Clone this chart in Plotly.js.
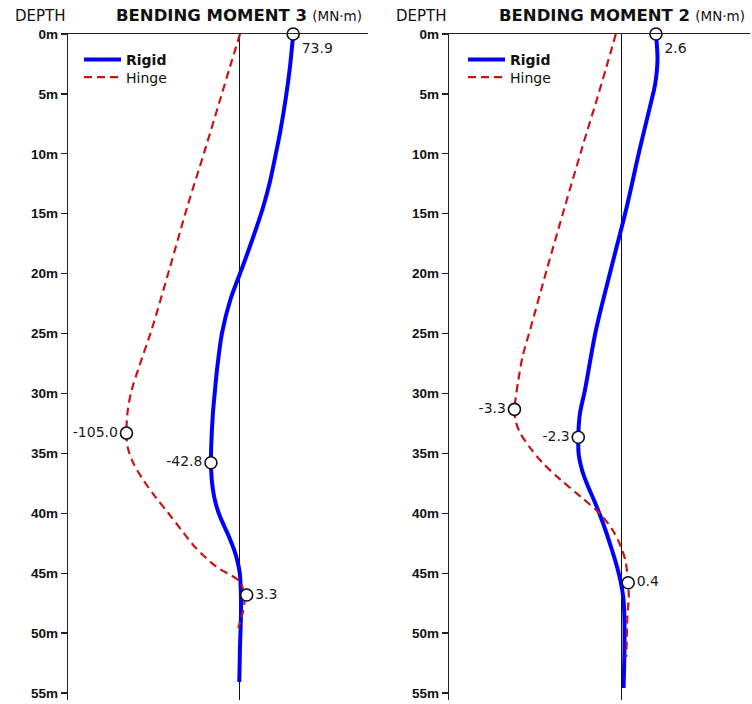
<!DOCTYPE html>
<html>
<head>
<meta charset="utf-8">
<script src="https://cdn.plot.ly/plotly-3.0.1.min.js"></script>
<style>html,body{margin:0;padding:0;background:#fff;}#chart{width:752px;height:704px;}</style>
</head>
<body>
<div id="chart"></div>
<script>
// ---------- DATA ----------
// Depth ticks
const depthTicks = [0, 5, 10, 15, 20, 25, 30, 35, 40, 45, 50, 55];
const depthTickText = ['0m', '5m', '10m', '15m', '20m', '25m', '30m', '35m', '40m', '45m', '50m', '55m'];

// Bending moment 3 (MN·m) - Rigid
const bm3RigidDepth = [0, 2.75, 5.51, 8.26, 9.52, 12.44, 14.52, 16.61, 18.03, 19.62, 22.2, 24.96, 27.8, 29.72, 31.64, 34.47, 35.79, 36.98, 38.06, 39.0, 40.0, 41.0, 42.0, 43.0, 44.0, 45.0, 46.5, 48.33, 51.17, 54.09];
const bm3RigidValue = [73.9, 69.4, 63.2, 55.6, 51.4, 41.2, 31.8, 20.3, 12.0, 2.4, -13.5, -25.0, -31.5, -34.7, -37.6, -40.0, -40.3, -39.5, -37.5, -34.5, -29.5, -22.5, -15.0, -8.5, -3.5, -0.3, 1.2, 1.4, 0.0, -1.0];
// Bending moment 3 (MN·m) - Hinge
const bm3HingeDepth = [0, 2.75, 5.51, 9.52, 14.52, 19.62, 24.71, 27.8, 29.8, 31.64, 33.31, 34.47, 35.81, 37.23, 38.65, 39.98, 41.4, 42.82, 44.49, 45.74, 47.08, 48.33, 49.58];
const bm3HingeValue = [0, -9.3, -18.5, -31.9, -49.1, -65.3, -81.9, -93.5, -100.5, -104.2, -105.1, -104.0, -98.8, -89.5, -78.2, -66.4, -54.2, -41.7, -21.6, 0.0, 4.2, 2.5, -1.6];

// Bending moment 2 (MN·m) - Rigid
const bm2RigidDepth = [0, 2.17, 4.26, 5.51, 9.52, 14.52, 19.62, 24.71, 29.72, 31.64, 33.64, 35.14, 36.39, 37.65, 38.9, 40.15, 41.4, 42.82, 44.16, 45.58, 47.0, 48.5, 51.17, 54.59];
const bm2RigidValue = [2.21, 2.31, 2.15, 1.93, 1.18, 0.31, -0.69, -1.66, -2.37, -2.69, -2.80, -2.77, -2.56, -2.21, -1.79, -1.40, -1.05, -0.69, -0.37, -0.09, 0.10, 0.17, 0.18, 0.12];
// Bending moment 2 (MN·m) - Hinge
const bm2HingeDepth = [0, 2.75, 5.51, 9.52, 14.52, 19.62, 24.71, 26.8, 28.88, 30.55, 31.33, 32.22, 33.22, 34.47, 35.81, 37.23, 38.65, 39.98, 41.4, 42.82, 44.16, 45.83, 47.0, 48.33, 51.17, 52.0];
const bm2HingeValue = [-0.18, -0.47, -0.77, -1.22, -1.76, -2.30, -2.82, -3.04, -3.18, -3.27, -3.30, -3.27, -3.14, -2.84, -2.43, -1.87, -1.25, -0.69, -0.28, -0.02, 0.13, 0.19, 0.22, 0.18, 0.15, 0.14];

// Highlighted points (depth, plotted position, printed label)
const bm3RigidMarkDepth = [0, 35.79];
const bm3RigidMarkValue = [73.9, -40.3];
const bm3RigidMarkLabel = ['73.9', '-42.8'];
const bm3HingeMarkDepth = [33.31, 46.83];
const bm3HingeMarkValue = [-105.1, 6.2];
const bm3HingeMarkLabel = ['-105.0', '3.3'];
const bm2RigidMarkDepth = [0, 33.66];
const bm2RigidMarkValue = [2.21, -2.80];
const bm2RigidMarkLabel = ['2.6', '-2.3'];
const bm2HingeMarkDepth = [31.33, 45.8];
const bm2HingeMarkValue = [-3.30, 0.20];
const bm2HingeMarkLabel = ['-3.3', '0.4'];

// ---------- STYLE ----------
const W = 752, H = 704;
const FONT = 'DejaVu Sans, Verdana, sans-serif';
const TICKFONT = 'Liberation Sans, Arial, sans-serif';
const BLUE = '#0000ff';
const RED = '#c81414';
const px = v => v / W;
const py = v => 1 - v / H;

const rigidLine = {color: BLUE, width: 4, shape: 'spline', smoothing: 0.9};
const hingeLine = {color: RED, width: 2.2, dash: '8px,5px', shape: 'spline', smoothing: 0.9};
const markStyle = {size: 12, color: '#ffffff', line: {color: '#111', width: 1.6}};
const markFont = {family: FONT, size: 14, color: '#1a1a1a'};

const traces = [
  {x: bm3RigidValue, y: bm3RigidDepth, xaxis: 'x', yaxis: 'y', mode: 'lines', name: '<b>Rigid</b>', line: rigidLine, legend: 'legend'},
  {x: bm3HingeValue, y: bm3HingeDepth, xaxis: 'x2', yaxis: 'y', mode: 'lines', name: 'Hinge', line: hingeLine, legend: 'legend2'},
  {x: bm2RigidValue, y: bm2RigidDepth, xaxis: 'x3', yaxis: 'y2', mode: 'lines', name: '<b>Rigid</b>', line: rigidLine, legend: 'legend3'},
  {x: bm2HingeValue, y: bm2HingeDepth, xaxis: 'x4', yaxis: 'y2', mode: 'lines', name: 'Hinge', line: hingeLine, legend: 'legend4'},
  {x: bm3RigidMarkValue, y: bm3RigidMarkDepth, xaxis: 'x', yaxis: 'y', mode: 'markers+text', text: bm3RigidMarkLabel,
   textposition: ['bottom right', 'middle left'], marker: markStyle, textfont: markFont, showlegend: false, cliponaxis: false},
  {x: bm3HingeMarkValue, y: bm3HingeMarkDepth, xaxis: 'x2', yaxis: 'y', mode: 'markers+text', text: bm3HingeMarkLabel,
   textposition: ['middle left', 'middle right'], marker: markStyle, textfont: markFont, showlegend: false, cliponaxis: false},
  {x: bm2RigidMarkValue, y: bm2RigidMarkDepth, xaxis: 'x3', yaxis: 'y2', mode: 'markers+text', text: bm2RigidMarkLabel,
   textposition: ['bottom right', 'middle left'], marker: markStyle, textfont: markFont, showlegend: false, cliponaxis: false},
  {x: bm2HingeMarkValue, y: bm2HingeMarkDepth, xaxis: 'x4', yaxis: 'y2', mode: 'markers+text', text: bm2HingeMarkLabel,
   textposition: ['middle left', 'middle right'], marker: markStyle, textfont: markFont, showlegend: false, cliponaxis: false}
];

const leftDom = [px(67.7), px(368)];
const rightDom = [px(448.7), px(750)];
const yDom = [1 - 700 / H, 1 - 34 / H];
const yRange = [55.59, 0];

function topAxis(dom, range, anchor) {
  return {domain: dom, range: range, anchor: anchor, side: 'top', showline: true, linecolor: '#222', linewidth: 1,
    showticklabels: false, ticks: '', showgrid: false, zeroline: true, zerolinecolor: '#111', zerolinewidth: 1, fixedrange: true};
}
function hiddenAxis(over, range) {
  return {overlaying: over, range: range, visible: false, showgrid: false, zeroline: false, fixedrange: true};
}
function depthAxis(anchor) {
  return {domain: yDom, range: yRange, anchor: anchor, showline: true, linecolor: '#222', linewidth: 1,
    tickvals: depthTicks, ticktext: depthTickText, ticks: 'outside', ticklen: 6, tickwidth: 1.2, tickcolor: '#222',
    tickfont: {family: TICKFONT, size: 13.5, color: '#111', weight: 'bold'}, showgrid: false, zeroline: false, fixedrange: true};
}
function legendAt(x, yTop) {
  return {x: px(x), y: py(yTop), xanchor: 'left', yanchor: 'top', bgcolor: 'rgba(0,0,0,0)',
    font: {family: FONT, size: 14, color: '#111'}, itemwidth: 37, tracegroupgap: 0};
}

const layout = {
  width: W, height: H,
  margin: {l: 0, r: 0, t: 0, b: 0},
  paper_bgcolor: '#fff', plot_bgcolor: '#fff',
  xaxis: topAxis(leftDom, [-239.3, 177.8], 'y'),
  xaxis2: hiddenAxis('x', [-159.5, 118.5]),
  xaxis3: topAxis(rightDom, [-11.16, 8.277], 'y2'),
  xaxis4: hiddenAxis('x3', [-5.323, 3.948]),
  yaxis: depthAxis('x'),
  yaxis2: depthAxis('x3'),
  legend: legendAt(79, 44),
  legend2: legendAt(79, 61.5),
  legend3: legendAt(463, 44),
  legend4: legendAt(463, 61.5),
  annotations: [
    {xref: 'paper', yref: 'paper', x: px(13), y: py(16), xanchor: 'left', yanchor: 'middle', showarrow: false,
     text: 'DEPTH', font: {family: FONT, size: 15, color: '#111'}},
    {xref: 'paper', yref: 'paper', x: px(394), y: py(16), xanchor: 'left', yanchor: 'middle', showarrow: false,
     text: 'DEPTH', font: {family: FONT, size: 15, color: '#111'}},
    {xref: 'paper', yref: 'paper', x: px(114), y: py(16), xanchor: 'left', yanchor: 'middle', showarrow: false,
     text: '<b>BENDING MOMENT 3</b> <span style="font-size:13.5px">(MN·m)</span>', font: {family: FONT, size: 16.5, color: '#111'}},
    {xref: 'paper', yref: 'paper', x: px(497), y: py(16), xanchor: 'left', yanchor: 'middle', showarrow: false,
     text: '<b>BENDING MOMENT 2</b> <span style="font-size:13.5px">(MN·m)</span>', font: {family: FONT, size: 16.5, color: '#111'}}
  ]
};

Plotly.newPlot('chart', traces, layout, {displayModeBar: false, staticPlot: true});
</script>
</body>
</html>
